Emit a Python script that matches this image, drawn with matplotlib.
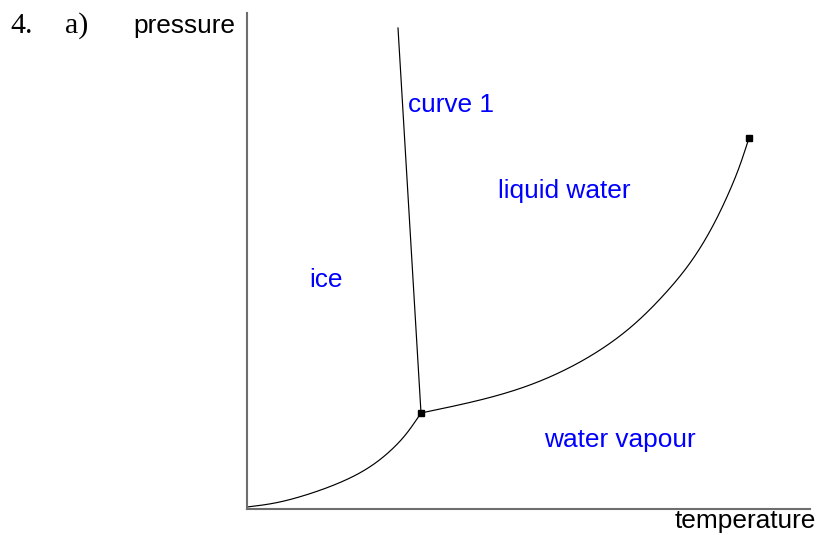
import numpy as np
import matplotlib
matplotlib.use("Agg")
import matplotlib.pyplot as plt

# ---- data (arbitrary temperature / pressure units) ----
sub_T = [0.5, 26.8, 60.2, 93.5, 126.8, 146.8, 160.2, 174.5]
sub_P = [1.5, 5.2, 13.8, 26.0, 44.0, 60.5, 75.2, 95.5]
vap_T = [174.5, 213.5, 253.5, 286.8, 320.2, 353.5, 386.8, 420.2, 446.8,
         466.8, 483.5, 493.5, 502.5]
vap_P = [95.5, 103.8, 113.8, 124.8, 139.5, 158.5, 183.5, 216.8, 250.2,
         283.5, 318.5, 343.5, 370.5]
fus_T = [174.5, 151.5]
fus_P = [95.5, 480.5]
point_T = [174.5, 502.5]
point_P = [95.5, 370.5]
region_labels = ["curve 1", "liquid water", "ice", "water vapour"]
region_T = [161.5, 251.5, 62.5, 297.5]
region_P = [396.5, 310.5, 221.5, 61.5]


def spline(xs, ys, n=500):
    """Natural cubic spline rendering through the points."""
    x = np.asarray(xs, float)
    y = np.asarray(ys, float)
    k = len(x)
    h = np.diff(x)
    A = np.zeros((k, k))
    b = np.zeros(k)
    A[0, 0] = A[-1, -1] = 1
    for i in range(1, k - 1):
        A[i, i - 1] = h[i - 1]
        A[i, i] = 2 * (h[i - 1] + h[i])
        A[i, i + 1] = h[i]
        b[i] = 6 * ((y[i + 1] - y[i]) / h[i] - (y[i] - y[i - 1]) / h[i - 1])
    M = np.linalg.solve(A, b)
    xx = np.linspace(x[0], x[-1], n)
    idx = np.clip(np.searchsorted(x, xx) - 1, 0, k - 2)
    xi, xj, hi = x[idx], x[idx + 1], h[idx]
    yy = (M[idx] * (xj - xx) ** 3 / (6 * hi) + M[idx + 1] * (xx - xi) ** 3 / (6 * hi)
          + (y[idx] / hi - M[idx] * hi / 6) * (xj - xx)
          + (y[idx + 1] / hi - M[idx + 1] * hi / 6) * (xx - xi))
    return xx, yy


W, H = 818, 535
fig = plt.figure(figsize=(W / 100, H / 100), dpi=100)
x0, y0, x1, y1 = 246.5, 508.5, 810, 13
ax = fig.add_axes([x0 / W, (H - y0) / H, (x1 - x0) / W, (y0 - y1) / H])
ax.set_xlim(0, x1 - x0)
ax.set_ylim(0, y0 - y1)
for s in ["top", "right"]:
    ax.spines[s].set_visible(False)
for s in ["left", "bottom"]:
    ax.spines[s].set_color("#6e6e6e")
    ax.spines[s].set_linewidth(1.5)
ax.set_xticks([])
ax.set_yticks([])
ax.patch.set_visible(False)

sx, sy = spline(sub_T, sub_P)
ax.plot(sx, sy, color="black", lw=0.85, clip_on=False)
vx, vy = spline(vap_T, vap_P)
ax.plot(vx, vy, color="black", lw=0.85, clip_on=False)
ax.plot(fus_T, fus_P, color="black", lw=0.85, clip_on=False)
ax.plot(point_T, point_P, linestyle="none", marker="s", markersize=5,
        color="black", clip_on=False, zorder=5)

fs = 18.9
for lab, t, p in zip(region_labels, region_T, region_P):
    ax.text(t, p, lab, color="#0000ff", fontsize=fs, family="Liberation Sans",
            ha="left", va="baseline")

fig.text(10 / W, 1 - 33 / H, "4.", family="Liberation Serif", fontsize=21.5,
         ha="left", va="baseline")
fig.text(65 / W, 1 - 33 / H, "a)", family="Liberation Serif", fontsize=21.5,
         ha="left", va="baseline")
fig.text(133 / W, 1 - 33 / H, "pressure", family="Liberation Sans", fontsize=fs,
         ha="left", va="baseline")
fig.text(675 / W, 1 - 528 / H, "temperature", family="Liberation Sans", fontsize=fs,
         ha="left", va="baseline")

fig.savefig("out.png", dpi=100)
